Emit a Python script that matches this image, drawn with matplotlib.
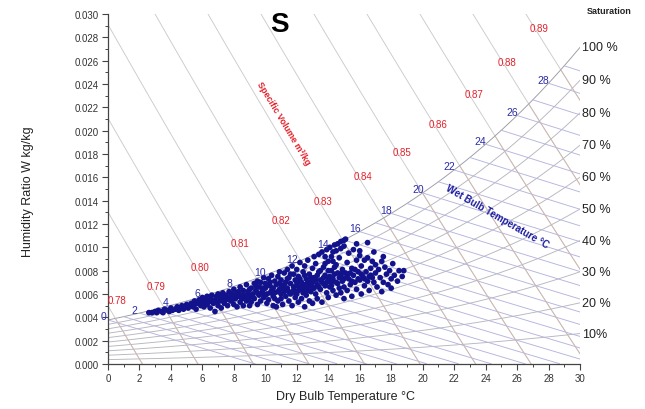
import numpy as np
import matplotlib
matplotlib.use('Agg')
import matplotlib.pyplot as plt
from matplotlib.ticker import MultipleLocator, FormatStrFormatter

plt.rcParams['font.family'] = ['Liberation Sans', 'DejaVu Sans']

# ---- chart values ----
rh_levels = [100, 90, 80, 70, 60, 50, 40, 30, 20, 10]
rh_labels = ['100 %', '90 %', '80 %', '70 %', '60 %', '50 %', '40 %', '30 %', '20 %', '10%']
wb_lines = list(range(0, 30))          # wet bulb lines, every 1 C
wb_labels = list(range(0, 30, 2))      # labelled every 2 C
vol_levels = [0.78, 0.79, 0.80, 0.81, 0.82, 0.83, 0.84, 0.85, 0.86, 0.87, 0.88, 0.89]
vol_label_w = [5.5, 6.7, 8.3, 10.4, 12.3, 14.0, 16.1, 18.2, 20.6, 23.1, 25.9, 28.8]  # g/kg, label height

obs = [
    (2.6, 4.4), (2.8, 4.4), (3.0, 4.5), (3.1, 4.4), (3.2, 4.6), (3.4, 4.5), (3.5, 4.4), (3.6, 4.7),
    (3.8, 4.6), (3.9, 4.5), (4.0, 4.8), (4.1, 4.6), (4.3, 4.7), (4.4, 4.9), (4.5, 4.6), (4.6, 4.8),
    (4.7, 5.0), (4.8, 4.7), (4.9, 4.9), (5.0, 5.1),
    (5.1, 4.8), (5.2, 5.0), (5.3, 5.2), (5.4, 4.9), (5.5, 5.1), (5.5, 5.4), (5.6, 4.7), (5.7, 5.2),
    (5.8, 5.5), (5.9, 5.0), (6.0, 5.3), (6.0, 5.7), (6.1, 4.9), (6.2, 5.5), (6.3, 5.1), (6.3, 5.8),
    (6.4, 5.3), (6.5, 4.8), (6.5, 5.6), (6.6, 5.9), (6.7, 5.2), (6.8, 5.5), (6.8, 4.5), (6.9, 5.8),
    (7.0, 5.0), (7.0, 6.0),
    (7.1, 5.4), (7.2, 5.7), (7.2, 4.8), (7.3, 6.1), (7.4, 5.2), (7.5, 5.9), (7.5, 5.5), (7.6, 5.0),
    (7.7, 6.2), (7.8, 5.4), (7.8, 5.8), (7.9, 6.0), (8.0, 5.1), (8.0, 6.4), (8.1, 5.6), (8.2, 6.1),
    (8.2, 4.9), (8.3, 5.8), (8.4, 5.3), (8.4, 6.6), (8.5, 5.6), (8.6, 6.3), (8.6, 5.0), (8.7, 5.9),
    (8.8, 5.4), (8.8, 6.8), (8.9, 6.2), (9.0, 5.7), (9.0, 5.0),
    (9.1, 6.5), (9.1, 5.3), (9.2, 6.0), (9.3, 6.9), (9.3, 5.6), (9.4, 6.3), (9.5, 7.1), (9.5, 5.1),
    (9.6, 5.9), (9.6, 6.6), (9.7, 7.0), (9.7, 5.4), (9.8, 6.2), (9.9, 7.4), (9.9, 5.7), (10.0, 6.5),
    (10.0, 6.9), (10.1, 5.2), (10.1, 6.0), (10.2, 7.3), (10.2, 5.5), (10.3, 6.7), (10.4, 7.6), (10.4, 6.3),
    (10.5, 5.0), (10.5, 5.8), (10.6, 7.1), (10.6, 6.1), (10.7, 6.8), (10.7, 4.9), (10.8, 7.5), (10.8, 5.4),
    (10.9, 6.4), (10.9, 7.9), (11.0, 6.0), (11.0, 5.6), (11.0, 7.2),
    (11.1, 6.6), (11.1, 5.1), (11.2, 7.8), (11.2, 6.2), (11.3, 5.8), (11.3, 7.0), (11.4, 8.1), (11.4, 6.5),
    (11.5, 5.4), (11.5, 7.4), (11.6, 6.0), (11.6, 6.9), (11.7, 8.4), (11.7, 5.0), (11.8, 7.7), (11.8, 6.3),
    (11.9, 5.7), (11.9, 7.2), (12.0, 8.1), (12.0, 6.7), (12.0, 6.0), (12.1, 5.3), (12.1, 7.5), (12.2, 8.7),
    (12.2, 6.4), (12.3, 7.0), (12.3, 5.6), (12.4, 7.9), (12.4, 6.1), (12.5, 6.8), (12.5, 8.4), (12.5, 4.9),
    (12.6, 7.3), (12.6, 5.9), (12.7, 6.5), (12.7, 8.9), (12.8, 7.7), (12.8, 5.4), (12.9, 6.2), (12.9, 7.0),
    (13.0, 8.2), (13.0, 6.6), (13.0, 5.2),
    (13.1, 7.4), (13.1, 9.2), (13.2, 6.0), (13.2, 8.6), (13.3, 6.8), (13.3, 5.6), (13.4, 7.9), (13.4, 9.4),
    (13.5, 6.4), (13.5, 7.2), (13.6, 9.6), (13.6, 5.3), (13.7, 8.3), (13.7, 6.9), (13.8, 7.6), (13.8, 9.2),
    (13.9, 6.1), (13.9, 9.8), (14.0, 7.3), (14.0, 8.8), (14.0, 5.7), (14.1, 6.6), (14.1, 10.0), (14.2, 8.0),
    (14.2, 7.0), (14.3, 9.6), (14.3, 6.3), (14.4, 10.2), (14.4, 7.7), (14.5, 5.9), (14.5, 8.5), (14.6, 10.3),
    (14.6, 6.9), (14.7, 7.4), (14.7, 9.1), (14.8, 10.5), (14.8, 6.1), (14.9, 8.1), (14.9, 7.1), (15.0, 10.6),
    (15.0, 6.6), (15.0, 5.6),
    (15.1, 10.7), (15.1, 7.8), (15.2, 8.7), (15.2, 6.3), (15.3, 7.3), (15.3, 9.5), (15.4, 6.8), (15.5, 8.2),
    (15.5, 5.8), (15.6, 7.6), (15.6, 9.8), (15.7, 7.0), (15.8, 8.9), (15.8, 6.4), (15.9, 7.9), (16.0, 7.2),
    (16.0, 9.3), (16.1, 6.0), (16.1, 8.4), (16.2, 7.5), (16.3, 8.9), (16.3, 6.7), (16.4, 7.9), (16.5, 7.1),
    (16.5, 9.1), (16.6, 6.3), (16.7, 8.2), (16.7, 7.6), (16.8, 8.8), (16.9, 7.0), (17.0, 7.8), (17.0, 8.5),
    (15.8, 10.3), (16.5, 10.4), (16.0, 9.7), (16.9, 9.6),
    (17.1, 6.6), (17.2, 8.1), (17.3, 7.4), (17.4, 8.8), (17.5, 7.0), (17.6, 8.3), (17.7, 7.7), (17.8, 6.8),
    (17.9, 8.0), (18.0, 7.3), (18.1, 8.6), (18.2, 7.6), (18.4, 7.1), (18.5, 8.0), (18.7, 7.5), (18.8, 8.0),
    (18.0, 6.5), (17.4, 6.2), (17.5, 9.2),
    # dense core
    (6.2, 5.2), (6.6, 5.4), (6.9, 5.3), (7.1, 5.8), (7.3, 5.4), (7.4, 5.7), (7.6, 5.6), (7.9, 5.5),
    (8.1, 5.9), (8.3, 6.2), (8.5, 5.9), (8.7, 5.6), (8.9, 5.9), (9.0, 6.4),
    (9.2, 5.8), (9.4, 6.7), (9.5, 6.1), (9.8, 6.5), (9.9, 6.0), (10.0, 5.9), (10.1, 6.7), (10.3, 6.1),
    (10.3, 7.0), (10.5, 6.5), (10.6, 5.6), (10.8, 6.2), (10.9, 6.9), (11.0, 6.5),
    (11.2, 6.8), (11.3, 6.4), (11.4, 7.3), (11.5, 6.2), (11.6, 7.7), (11.8, 6.6), (11.9, 6.1), (12.0, 7.0),
    (12.1, 6.3), (12.2, 7.3), (12.3, 6.7), (12.4, 6.5), (12.5, 7.6), (12.6, 6.2), (12.7, 7.0), (12.8, 6.8),
    (12.9, 7.4), (13.0, 7.0),
    (13.1, 6.5), (13.2, 7.2), (13.3, 7.6), (13.4, 6.6), (13.5, 8.0), (13.6, 7.0), (13.7, 7.4), (13.8, 6.7),
    (13.9, 7.0), (14.0, 8.0), (14.1, 7.5), (14.2, 6.7), (14.3, 7.3), (14.4, 8.3), (14.5, 7.0), (14.6, 7.8),
    (14.7, 6.5), (14.8, 7.6), (14.9, 7.8), (15.0, 7.3),
    (15.2, 7.6), (15.4, 7.8), (15.5, 7.1), (15.7, 8.1), (15.9, 7.3), (16.1, 7.7), (16.3, 7.3), (16.6, 7.5),
    (16.8, 7.4),
    (13.8, 8.6), (14.2, 9.2), (14.5, 9.7), (14.8, 9.9), (15.0, 10.1), (14.3, 8.8),
]
obs_t = np.array([p[0] for p in obs])
obs_w = np.array([p[1] for p in obs]) / 1000.0

# ---- psychrometric helpers ----
P_ATM = 101.325

def p_ws(t):
    return 0.61094 * np.exp(17.625 * t / (t + 243.04))

def w_rh(t, rh):
    p = rh * p_ws(t)
    return 0.621945 * p / (P_ATM - p)

def w_wetbulb(t, twb):
    ws = w_rh(twb, 1.0)
    return ((2501 - 2.326 * twb) * ws - 1.006 * (t - twb)) / (2501 + 1.86 * t - 4.186 * twb)

def t_volume(v, w):
    return v * P_ATM / (0.287042 * (1 + 1.607858 * w)) - 273.15


fig = plt.figure(figsize=(6.45, 4.1), dpi=100)
ax = fig.add_axes([0.1674, 0.1098, 0.7318, 0.8537])
ax.set_xlim(0, 30)
ax.set_ylim(0, 0.030)

tt = np.linspace(0, 30, 301)

# relative humidity lines
for rh, lab in zip(rh_levels, rh_labels):
    col = '#9a9aa4' if rh == 100 else '#b6b6c0'
    ax.plot(tt, w_rh(tt, rh / 100.0), color=col, lw=0.65, zorder=2)
    ax.text(30.15, w_rh(30, rh / 100.0), lab, ha='left', va='center', fontsize=9,
            color='#222222')
ax.text(31.85, 0.0303, 'Saturation', ha='center', va='center', fontsize=6.5,
        fontweight='bold', color='#222222')

# wet bulb lines
for twb in wb_lines:
    t = np.linspace(twb, 30, 200)
    w = w_wetbulb(t, twb)
    ax.plot(t[w >= 0], w[w >= 0], color='#b4b4de', lw=0.65, zorder=2)
for twb in wb_labels:
    ax.annotate(str(twb), (twb, w_rh(twb, 1.0)), xytext=(-3.5, 2.5), textcoords='offset points',
                ha='center', va='center', fontsize=7.5, color='#2b2ba8', zorder=6)

# specific volume lines
ww = np.linspace(0, 0.031, 400)
for v, lw_lab in zip(vol_levels, vol_label_w):
    t = t_volume(v, ww)
    ax.plot(t, ww, color='#cbcbcb', lw=0.65, zorder=1)
    below = ww <= w_rh(t, 1.0)
    ax.plot(t[below], ww[below], color='#d0b8b0', lw=0.65, zorder=2)
    wl = lw_lab / 1000.0
    tl = max(t_volume(v, wl) + 0.3, 0.6)
    ax.text(tl, wl, '%.2f' % v, ha='center', va='center', fontsize=7, color='#e4202a', zorder=6)

ax.text(11.13, 0.0207, 'Specific Volume m³/kg', rotation=-59, ha='center', va='center',
        fontsize=6.5, fontweight='bold', color='#e4202a')
ax.text(24.73, 0.0127, 'Wet Bulb Temperature °C', rotation=-30, ha='center', va='center',
        fontsize=7, fontweight='bold', color='#1c1ca0')

# measured data
ax.scatter(obs_t, obs_w, s=17, c='#12128c', edgecolors='none', zorder=5)

# axes styling
for side in ['top', 'right']:
    ax.spines[side].set_visible(False)
for side in ['left', 'bottom']:
    ax.spines[side].set_color('#444444')
    ax.spines[side].set_linewidth(0.9)
ax.xaxis.set_major_locator(MultipleLocator(2))
ax.xaxis.set_minor_locator(MultipleLocator(1))
ax.yaxis.set_major_locator(MultipleLocator(0.002))
ax.yaxis.set_minor_locator(MultipleLocator(0.001))
ax.yaxis.set_major_formatter(FormatStrFormatter('%.3f'))
ax.tick_params(which='major', direction='out', length=4, width=0.8, color='#444444',
               labelsize=7, labelcolor='#333333', pad=2.5)
ax.tick_params(which='minor', direction='out', length=2, width=0.7, color='#444444')

fig.text(0.535, 0.032, 'Dry Bulb Temperature °C', ha='center', va='center', fontsize=9,
         color='#222222')
fig.text(0.043, 0.532, 'Humidity Ratio W kg/kg', ha='center', va='center', rotation=90,
         fontsize=9, color='#222222')
fig.text(0.434, 0.939, 'S', ha='center', va='center', fontsize=20, fontweight='bold')

fig.savefig('out.png', dpi=100)
